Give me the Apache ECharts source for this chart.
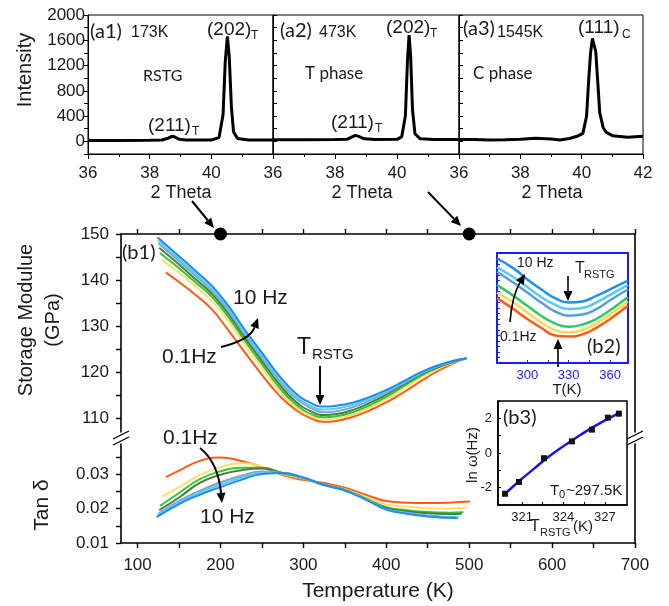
<!DOCTYPE html>
<html>
<head>
<meta charset="utf-8">
<script src="https://cdn.jsdelivr.net/npm/echarts@6/dist/echarts.min.js"></script>
<style>
html, body { margin: 0; padding: 0; background: #fff; }
#main { width: 669px; height: 606px; }
</style>
</head>
<body>
<div id="main"></div>
<script>
// XRD patterns (2 Theta vs intensity)
const xrdA1Theta = [36, 37, 38, 38.4, 38.6, 38.72, 38.8, 38.95, 39.2, 40.0, 40.25, 40.38, 40.45, 40.52, 40.58, 40.65, 40.72, 40.85, 41.2, 42];
const xrdA1Int   = [12, 14, 16, 22, 50, 80, 72, 35, 20, 22, 60, 420, 1250, 1660, 1350, 550, 150, 45, 22, 20];
const xrdA2Theta = [36, 37, 38, 38.4, 38.55, 38.66, 38.78, 38.95, 39.3, 40.0, 40.15, 40.27, 40.34, 40.39, 40.44, 40.5, 40.58, 40.75, 41.2, 42];
const xrdA2Int   = [27, 27, 28, 35, 70, 95, 75, 40, 28, 32, 70, 400, 1300, 1680, 1350, 500, 120, 40, 30, 28];
const xrdA3Theta = [36, 36.5, 37, 37.5, 38, 38.5, 39, 39.3, 39.6, 39.85, 40.04, 40.16, 40.22, 40.29, 40.35, 40.4, 40.46, 40.53, 40.59, 40.7, 40.8, 41, 41.5, 42];
const xrdA3Int   = [30, 28, 22, 25, 35, 50, 38, 20, 45, 80, 127, 400, 900, 1400, 1630, 1660, 1420, 900, 450, 220, 145, 90, 65, 80];

// frequencies, 0.1 Hz -> 10 Hz
const freqNames = ['0.1 Hz', '0.2 Hz', '0.5 Hz', '1 Hz', '2 Hz', '5 Hz', '10 Hz'];
const freqColors = ['#ff5a14', '#ffe066', '#2ec83a', '#4f7d3a', '#78a8d0', '#5ccdf2', '#1e8cf0'];

// storage modulus (GPa)
const tempE = [125, 150, 170, 190, 210, 230, 250, 270, 290, 310, 325, 340, 360, 380, 400, 420, 440, 460, 480, 497];
const startE = [134, 129, 127, 126, 125, 125, 124];
const modulus = [
  [141.7, 139.6, 136.8, 133.6, 129.0, 124.2, 119.5, 115.2, 112.0, 110.0, 109.3, 109.5, 110.4, 111.8, 113.5, 115.6, 117.9, 120.1, 121.9, 123.1],
  [144.4, 141.6, 138.6, 135.4, 131.0, 125.8, 121.0, 116.3, 112.6, 110.4, 109.8, 110.0, 110.9, 112.4, 114.2, 116.4, 118.7, 120.7, 122.1, 123.1],
  [145.9, 142.6, 139.5, 136.3, 131.9, 126.7, 121.8, 117.0, 113.2, 110.9, 110.3, 110.5, 111.4, 112.9, 114.7, 116.9, 119.1, 120.9, 122.2, 123.1],
  [147.0, 143.4, 140.2, 137.0, 132.6, 127.4, 122.5, 117.7, 113.8, 111.5, 110.8, 111.0, 111.9, 113.4, 115.2, 117.3, 119.4, 121.0, 122.3, 123.1],
  [148.0, 144.1, 140.9, 137.6, 133.2, 128.0, 123.2, 118.4, 114.5, 112.2, 111.4, 111.6, 112.5, 113.9, 115.6, 117.6, 119.6, 121.2, 122.4, 123.1],
  [148.6, 144.6, 141.4, 138.1, 133.7, 128.5, 123.7, 118.9, 115.0, 112.7, 112.0, 112.2, 113.0, 114.3, 115.9, 117.8, 119.7, 121.3, 122.5, 123.1],
  [149.3, 145.2, 142.0, 138.7, 134.3, 129.1, 124.3, 119.5, 115.6, 113.3, 112.6, 112.8, 113.5, 114.7, 116.2, 118.0, 119.9, 121.4, 122.5, 123.1]
];

// tan delta
const tempD = [125, 150, 175, 200, 225, 250, 275, 300, 325, 350, 375, 400, 425, 450, 475, 490];
const startD = [134, 130, 127, 126, 125, 124, 123];
const endD = [501, 497, 493, 491, 487, 487, 486];
const tanDelta = [
  [0.0291, 0.0310, 0.0338, 0.0348, 0.0338, 0.0320, 0.0297, 0.0283, 0.0274, 0.0260, 0.0240, 0.0222, 0.0217, 0.0216, 0.0217, 0.0220],
  [0.0235, 0.0262, 0.0297, 0.0320, 0.0331, 0.0322, 0.0300, 0.0287, 0.0270, 0.0256, 0.0234, 0.0212, 0.0205, 0.0201, 0.0200, 0.0203],
  [0.0208, 0.0245, 0.0285, 0.0308, 0.0318, 0.0318, 0.0303, 0.0289, 0.0269, 0.0254, 0.0229, 0.0204, 0.0195, 0.0190, 0.0188, 0.0189],
  [0.0195, 0.0232, 0.0274, 0.0298, 0.0311, 0.0316, 0.0302, 0.0289, 0.0269, 0.0254, 0.0228, 0.0202, 0.0192, 0.0186, 0.0184, 0.0185],
  [0.0185, 0.0222, 0.0251, 0.0276, 0.0295, 0.0307, 0.0303, 0.0290, 0.0268, 0.0253, 0.0227, 0.0199, 0.0188, 0.0180, 0.0176, 0.0175],
  [0.0180, 0.0218, 0.0246, 0.0269, 0.0289, 0.0304, 0.0303, 0.0290, 0.0268, 0.0253, 0.0227, 0.0198, 0.0186, 0.0178, 0.0174, 0.0174],
  [0.0175, 0.0213, 0.0240, 0.0262, 0.0283, 0.0300, 0.0303, 0.0289, 0.0268, 0.0252, 0.0226, 0.0197, 0.0185, 0.0177, 0.0173, 0.0172]
];

// temperatures of the XRD scans marked on the modulus axis
const thetaMarkT = [200, 500];

// inset b2: modulus near the minimum (orange, yellow, green, steel, light blue, blue)
const tempB2 = [278, 290, 300, 310, 320, 330, 340, 350, 360, 373];
const colorsB2 = ['#ff5a14', '#ffd84d', '#2ec86a', '#5a9fd0', '#5ccaf0', '#1f8ff0'];
const modulusB2 = [
  [112.9, 111.9, 111.0, 110.2, 109.5, 109.4, 109.6, 110.2, 111.0, 112.2],
  [113.4, 112.5, 111.6, 110.7, 110.0, 109.8, 110.0, 110.6, 111.4, 112.6],
  [114.1, 113.1, 112.2, 111.3, 110.6, 110.3, 110.5, 111.0, 111.8, 113.0],
  [115.3, 114.3, 113.4, 112.5, 111.7, 111.3, 111.4, 111.9, 112.7, 113.7],
  [115.7, 114.8, 113.9, 113.0, 112.3, 111.9, 112.0, 112.5, 113.2, 114.1],
  [116.5, 115.6, 114.6, 113.7, 112.9, 112.5, 112.6, 113.1, 113.7, 114.5]
];

// inset b3: ln(omega) vs T_RSTG
const b3T = [319.77, 320.78, 322.59, 324.61, 326.06, 327.21, 328.01];
const b3LnW = [-2.35, -1.67, -0.30, 0.67, 1.35, 2.04, 2.27];
const fitT = [319.62, 320.78, 321.94, 323.02, 324.1, 325.19, 326.27, 327.36, 328.15];
const fitLnW = [-2.47, -1.63, -0.86, -0.16, 0.45, 1.02, 1.55, 2.03, 2.36];

const SANS = '"Liberation Sans", Arial, sans-serif';
const CAL = 'Lato, "Open Sans", sans-serif';
const INK = '#1a1a1a';
const BLUE_AX = '#1a1aff';

function pairs(xs, ys) { return xs.map((x, i) => [x, ys[i]]); }

function t(x, y, s, size, o) {
  o = o || {};
  return {
    type: 'text', x: x, y: y, rotation: o.rot || 0, z: 100,
    style: { text: s, fontSize: size, fontFamily: o.font || SANS, fill: o.color || INK,
             align: o.align || 'left', verticalAlign: 'middle', lineHeight: o.lh }
  };
}

function arrow(x1, y1, x2, y2, cx, cy, w) {
  const curved = cx !== undefined && cx !== null;
  const px = curved ? cx : x1, py = curved ? cy : y1;
  const dx = x2 - px, dy = y2 - py, len = Math.hypot(dx, dy);
  const ux = dx / len, uy = dy / len, h = 10, hw = 4.5;
  const bx = x2 - ux * h, by = y2 - uy * h;
  const body = curved
    ? { type: 'bezierCurve', z: 100, shape: { x1: x1, y1: y1, x2: bx, y2: by, cpx1: cx, cpy1: cy }, style: { stroke: '#000', lineWidth: w || 2, fill: null } }
    : { type: 'line', z: 100, shape: { x1: x1, y1: y1, x2: bx, y2: by }, style: { stroke: '#000', lineWidth: w || 2 } };
  const head = { type: 'polygon', z: 100, shape: { points: [[x2, y2], [bx - uy * hw, by + ux * hw], [bx + uy * hw, by - ux * hw]] }, style: { fill: '#000' } };
  return [body, head];
}

function brk(x, y) {
  return [
    { type: 'rect', z: 90, shape: { x: x - 4, y: y - 4, width: 8, height: 8 }, style: { fill: '#fff' } },
    { type: 'line', z: 100, shape: { x1: x - 8, y1: y + 1, x2: x + 8, y2: y - 7 }, style: { stroke: '#000', lineWidth: 1.3 } },
    { type: 'line', z: 100, shape: { x1: x - 8, y1: y + 7, x2: x + 8, y2: y - 1 }, style: { stroke: '#000', lineWidth: 1.3 } }
  ];
}

const chart = echarts.init(document.getElementById('main'));

const xrdPanels = [
  { left: 88, width: 185 },
  { left: 273, width: 186 },
  { left: 459, width: 184 }
];

const grids = xrdPanels.map(p => ({ left: p.left, top: 15, width: p.width, height: 139, show: true, borderColor: '#000', borderWidth: 1, backgroundColor: 'transparent' }));
grids.push({ left: 121, top: 234, width: 514, height: 198 });   // 3 modulus
grids.push({ left: 121, top: 444, width: 514, height: 99 });    // 4 tan delta
grids.push({ left: 497, top: 253, width: 131, height: 110, show: true, borderColor: BLUE_AX, borderWidth: 2 }); // 5 b2
grids.push({ left: 498, top: 401, width: 129, height: 104, show: true, borderColor: '#000', borderWidth: 1.5 }); // 6 b3

const xAxes = xrdPanels.map((p, i) => ({
  gridIndex: i, type: 'value', min: 36, max: 42, interval: 2,
  axisLine: { onZero: false, lineStyle: { color: '#000', width: 1 } }, splitLine: { show: false },
  axisTick: { length: 5, lineStyle: { color: '#000' } },
  minorTick: { show: true, splitNumber: 2, length: 3, lineStyle: { color: '#000' } },
  axisLabel: { fontSize: 17, color: INK, fontFamily: SANS, margin: 11, showMaxLabel: i === 2 }
}));
const tempTicks = [100, 150, 200, 250, 300, 350, 400, 450, 500, 550, 600, 650, 700];
const tempLabels = [100, 200, 300, 400, 500, 600, 700];
xAxes.push({
  gridIndex: 3, type: 'value', position: 'top', min: 80, max: 700,
  axisLine: { onZero: false, lineStyle: { color: '#000', width: 1.6 } }, splitLine: { show: false },
  axisTick: { customValues: tempTicks, length: 5, lineStyle: { color: '#000', width: 1.4 } },
  axisLabel: { show: false }
});
xAxes.push({
  gridIndex: 4, type: 'value', position: 'bottom', min: 80, max: 700,
  axisLine: { onZero: false, lineStyle: { color: '#000', width: 1.6 } }, splitLine: { show: false },
  axisTick: { customValues: tempTicks, length: 5, lineStyle: { color: '#000', width: 1.4 } },
  axisLabel: { customValues: tempLabels, fontSize: 17, color: INK, fontFamily: SANS, margin: 14 }
});
xAxes.push({
  gridIndex: 5, type: 'value', min: 278, max: 373,
  axisLine: { onZero: false, lineStyle: { color: BLUE_AX, width: 2 } }, splitLine: { show: false },
  axisTick: { customValues: [300, 315, 330, 345, 360], inside: true, length: 3, lineStyle: { color: BLUE_AX } },
  axisLabel: { customValues: [300, 330, 360], fontSize: 13, color: BLUE_AX, fontFamily: SANS, margin: 6 }
});
xAxes.push({
  gridIndex: 6, type: 'value', min: 319.26, max: 328.6,
  axisLine: { onZero: false, lineStyle: { color: '#000', width: 1.5 } }, splitLine: { show: false },
  axisTick: { customValues: [321, 322.5, 324, 325.5, 327], inside: true, length: 3, lineStyle: { color: '#000' } },
  axisLabel: { customValues: [321, 324, 327], fontSize: 13, color: INK, fontFamily: SANS, margin: 6 }
});

const yAxes = xrdPanels.map((p, i) => ({
  gridIndex: i, type: 'value', min: -200, max: 2000, interval: 200,
  axisLine: { show: true, onZero: false, lineStyle: { color: '#000', width: 1 } }, splitLine: { show: false },
  axisTick: { show: true, inside: i > 0, length: 4, lineStyle: { color: '#000' } },
  axisLabel: { show: i === 0, fontSize: 17, color: INK, fontFamily: SANS, margin: 3,
               formatter: v => (v >= 0 && v % 400 === 0) ? String(v) : '' }
}));
yAxes.push({ // 3 modulus left
  gridIndex: 3, type: 'value', min: 107.1, max: 150,
  axisLine: { show: true, onZero: false, lineStyle: { color: '#000', width: 1.6 } }, splitLine: { show: false },
  axisTick: { show: true, customValues: [110, 115, 120, 125, 130, 135, 140, 145, 150], length: 5, lineStyle: { color: '#000', width: 1.4 } },
  axisLabel: { customValues: [110, 120, 130, 140, 150], fontSize: 17, color: INK, fontFamily: SANS, margin: 12 }
});
yAxes.push({ // 4 modulus right
  gridIndex: 3, type: 'value', position: 'right', min: 107.1, max: 150,
  axisLine: { show: true, onZero: false, lineStyle: { color: '#000', width: 1.6 } }, splitLine: { show: false },
  axisTick: { show: false }, axisLabel: { show: false }
});
yAxes.push({ // 5 tan delta left
  gridIndex: 4, type: 'value', min: 0.01, max: 0.0387,
  axisLine: { show: true, onZero: false, lineStyle: { color: '#000', width: 1.6 } }, splitLine: { show: false },
  axisTick: { show: true, customValues: [0.01, 0.015, 0.02, 0.025, 0.03, 0.035], length: 5, lineStyle: { color: '#000', width: 1.4 } },
  axisLabel: { customValues: [0.01, 0.02, 0.03], fontSize: 17, color: INK, fontFamily: SANS, margin: 12, formatter: v => v.toFixed(2) }
});
yAxes.push({ // 6 tan delta right
  gridIndex: 4, type: 'value', position: 'right', min: 0.01, max: 0.0387,
  axisLine: { show: true, onZero: false, lineStyle: { color: '#000', width: 1.6 } }, splitLine: { show: false },
  axisTick: { show: false }, axisLabel: { show: false }
});
yAxes.push({ // 7 b2
  gridIndex: 5, type: 'value', min: 107, max: 117, interval: 0.5,
  axisLine: { show: true, onZero: false, lineStyle: { color: BLUE_AX, width: 2 } }, splitLine: { show: false },
  axisTick: { show: true, inside: true, length: 3, lineStyle: { color: BLUE_AX } },
  axisLabel: { show: false }
});
yAxes.push({ // 8 b3
  gridIndex: 6, type: 'value', min: -3, max: 3, interval: 1,
  axisLine: { show: true, onZero: false, lineStyle: { color: '#000', width: 1.5 } }, splitLine: { show: false },
  axisTick: { show: true, inside: true, length: 3, lineStyle: { color: '#000' } },
  axisLabel: { fontSize: 13, color: INK, fontFamily: SANS, margin: 6, formatter: v => (v % 2 === 0 ? String(v) : '') }
});

const series = [];
[[xrdA1Theta, xrdA1Int], [xrdA2Theta, xrdA2Int], [xrdA3Theta, xrdA3Int]].forEach((d, i) => {
  series.push({ type: 'line', xAxisIndex: i, yAxisIndex: i, data: pairs(d[0], d[1]), symbol: 'none',
                lineStyle: { color: '#000', width: 3 }, silent: true });
});
modulus.forEach((vals, k) => {
  const ts = tempE.slice(); ts[0] = startE[k];
  series.push({ name: freqNames[k], type: 'line', xAxisIndex: 3, yAxisIndex: 3, data: pairs(ts, vals),
                symbol: 'none', smooth: true, lineStyle: { color: freqColors[k], width: 2 } });
});
tanDelta.forEach((vals, k) => {
  const ts = tempD.slice(); ts[0] = startD[k]; ts[ts.length - 1] = endD[k];
  series.push({ name: freqNames[k], type: 'line', xAxisIndex: 4, yAxisIndex: 5, data: pairs(ts, vals),
                symbol: 'none', smooth: true, lineStyle: { color: freqColors[k], width: 2 } });
});
series.push({ type: 'scatter', xAxisIndex: 3, yAxisIndex: 3, data: thetaMarkT.map(v => [v, 150]),
              symbol: 'circle', symbolSize: 13, itemStyle: { color: '#000', opacity: 1 }, clip: false, z: 20 });
modulusB2.forEach((vals, k) => {
  series.push({ type: 'line', xAxisIndex: 5, yAxisIndex: 7, data: pairs(tempB2, vals), symbol: 'none',
                smooth: true, lineStyle: { color: colorsB2[k], width: 2.5 } });
});
series.push({ type: 'line', xAxisIndex: 6, yAxisIndex: 8, data: pairs(fitT, fitLnW), symbol: 'none',
              smooth: true, lineStyle: { color: '#1414f0', width: 2.5 }, z: 3 });
series.push({ type: 'scatter', xAxisIndex: 6, yAxisIndex: 8, data: pairs(b3T, b3LnW), symbol: 'rect',
              symbolSize: 6, itemStyle: { color: '#111', opacity: 1 }, z: 4 });

// annotations
let g = [];
g.push(t(25, 70, 'Intensity', 20, { rot: Math.PI / 2, align: 'center' }));
g.push(t(90, 32, '(a1)', 20, { font: CAL }));
g.push(t(131, 33, '173K', 16));
g.push(t(207, 30, '(202)', 19));
g.push(t(251, 36, 'T', 12));
g.push(t(143, 76, 'RSTG', 16, { font: CAL }));
g.push(t(148, 126, '(211)', 19));
g.push(t(192, 132, 'T', 12));
g.push(t(280, 31, '(a2)', 20, { font: CAL }));
g.push(t(319, 33, '473K', 16));
g.push(t(386, 28, '(202)', 19));
g.push(t(430, 34, 'T', 12));
g.push(t(305, 74, 'T phase', 17, { font: CAL }));
g.push(t(331, 123, '(211)', 19));
g.push(t(375, 129, 'T', 12));
g.push(t(463, 29, '(a3)', 20, { font: CAL }));
g.push(t(497, 33, '1545K', 16));
g.push(t(578, 28, '(111)', 19));
g.push(t(622, 35, 'C', 12));
g.push(t(473, 74, 'C phase', 17, { font: CAL }));
g.push(t(181, 193, '2 Theta', 18, { align: 'center' }));
g.push(t(362, 193, '2 Theta', 18, { align: 'center' }));
g.push(t(552, 193, '2 Theta', 18, { align: 'center' }));
g = g.concat(arrow(192, 201, 214, 228));
g = g.concat(arrow(428, 192, 461, 226));

// main panel text
g.push(t(40, 320, 'Storage Modulue\n(GPa)', 20, { rot: Math.PI / 2, align: 'center', lh: 27 }));
g.push(t(42, 505, 'Tan δ', 21, { rot: Math.PI / 2, align: 'center' }));
g.push(t(378, 591, 'Temperature (K)', 21, { align: 'center' }));
g.push(t(122, 253, '(b1)', 20, { font: CAL }));
g.push(t(233, 298, '10 Hz', 21));
g.push(t(162, 357, '0.1Hz', 21));
g = g.concat(arrow(221, 347, 258, 318, 250, 340));
g.push(t(297, 348, 'T', 23));
g.push(t(312, 355, 'RSTG', 15));
g = g.concat(arrow(320, 366, 320, 405));
g.push(t(163, 438, '0.1Hz', 21));
g.push(t(200, 517, '10 Hz', 21));
g = g.concat(arrow(200, 448, 222, 503, 218, 462));
g = g.concat(brk(121, 438));
g = g.concat(brk(635, 438));

// inset b2 text
g.push(t(517, 263, '10 Hz', 14));
g.push(t(500, 337, '0.1Hz', 14));
g.push(t(575, 269, 'T', 16));
g.push(t(584, 275, 'RSTG', 11));
g.push(t(587, 347, '(b2)', 20, { font: CAL }));
g.push(t(567, 390, 'T(K)', 15, { align: 'center' }));
g = g.concat(arrow(510, 322, 525, 274, 512, 296, 1.6));
g = g.concat(arrow(568, 276, 568, 301, null, null, 1.6));
g = g.concat(arrow(558, 367, 558, 339, null, null, 1.6));

// inset b3 text
g.push(t(503, 418, '(b3)', 20, { font: CAL }));
g.push(t(473, 455, 'ln ω(Hz)', 15, { rot: Math.PI / 2, align: 'center' }));
g.push(t(550, 491, 'T', 15));
g.push(t(559, 495, '0', 11));
g.push(t(566, 491, '~297.5K', 15));
g.push(t(530, 527, 'T', 16));
g.push(t(540, 533, 'RSTG', 11));
g.push(t(573, 527, '(K)', 15));

chart.setOption({
  animation: false,
  backgroundColor: '#fff',
  grid: grids,
  xAxis: xAxes,
  yAxis: yAxes,
  series: series,
  graphic: { elements: g }
});
</script>
</body>
</html>
